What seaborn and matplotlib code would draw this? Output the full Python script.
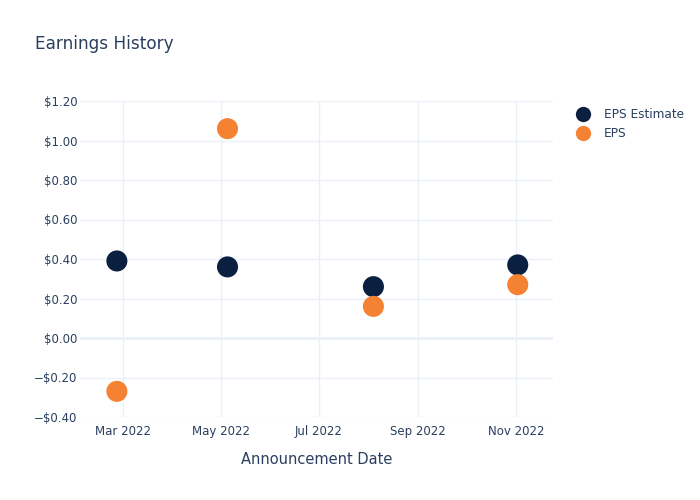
import matplotlib
matplotlib.use("Agg")
import matplotlib.pyplot as plt
import matplotlib.dates as mdates
from matplotlib.ticker import FuncFormatter, MultipleLocator
from matplotlib.lines import Line2D
import seaborn as sns
import pandas as pd

dates = ["2022-02-25", "2022-05-05", "2022-08-04", "2022-11-02"]
eps_estimate = [0.39, 0.36, 0.26, 0.37]
eps_actual = [-0.27, 1.06, 0.16, 0.27]
series_names = ["EPS Estimate", "EPS"]
colors = ["#0b1f41", "#f58233"]

df = pd.DataFrame({
    "date": pd.to_datetime(dates * 2),
    "value": eps_estimate + eps_actual,
    "series": [series_names[0]] * 4 + [series_names[1]] * 4,
})

sns.set_style("white")
plt.rcParams['font.family'] = ['DejaVu Sans']
text_color = "#2a3f5f"
grid_color = "#ebf0f8"

fig = plt.figure(figsize=(7, 5), dpi=100)
ax = fig.add_axes([80/700, 1-417/500, (553-80)/700, (417-101)/500])

sns.scatterplot(data=df, x="date", y="value", hue="series", palette=colors,
                hue_order=series_names, s=230, edgecolor="none", ax=ax,
                legend=False, zorder=3)

ax.set_xlim(pd.Timestamp("2022-02-02"), pd.Timestamp("2022-11-24"))
ax.set_ylim(-0.40, 1.20)
ax.yaxis.set_major_locator(MultipleLocator(0.2))

def fmt(v, pos):
    s = "${:.2f}".format(abs(v))
    return ("\u2212" + s) if v < -1e-9 else s
ax.yaxis.set_major_formatter(FuncFormatter(fmt))
ax.xaxis.set_major_locator(mdates.MonthLocator(bymonth=[3, 5, 7, 9, 11]))
ax.xaxis.set_major_formatter(mdates.DateFormatter("%b %Y"))

ax.grid(True, color=grid_color, linewidth=1, zorder=0)
ax.axhline(0, color=grid_color, linewidth=2, zorder=1)
for sp in ax.spines.values():
    sp.set_visible(False)
ax.tick_params(axis="both", length=0, labelsize=8.5, colors=text_color)
ax.tick_params(axis="y", pad=2)
ax.tick_params(axis="x", pad=6)
ax.set_ylabel("")
ax.set_xlabel("Announcement Date", fontsize=10.5, color=text_color, labelpad=10)

fig.text(35/700, 1-44/500, "Earnings History", fontsize=12.2, color=text_color,
         va="center", ha="left")

handles = [Line2D([], [], marker="o", linestyle="none", markersize=11,
                  markerfacecolor=c, markeredgecolor="none") for c in colors]
leg = fig.legend(handles, series_names, loc="upper left",
                 bbox_to_anchor=(571/700, 1-103/500), frameon=False,
                 fontsize=8.7, labelcolor=text_color, handletextpad=1.1,
                 labelspacing=0.5, borderaxespad=0, handlelength=1.2)

fig.savefig("out.png", dpi=100)
